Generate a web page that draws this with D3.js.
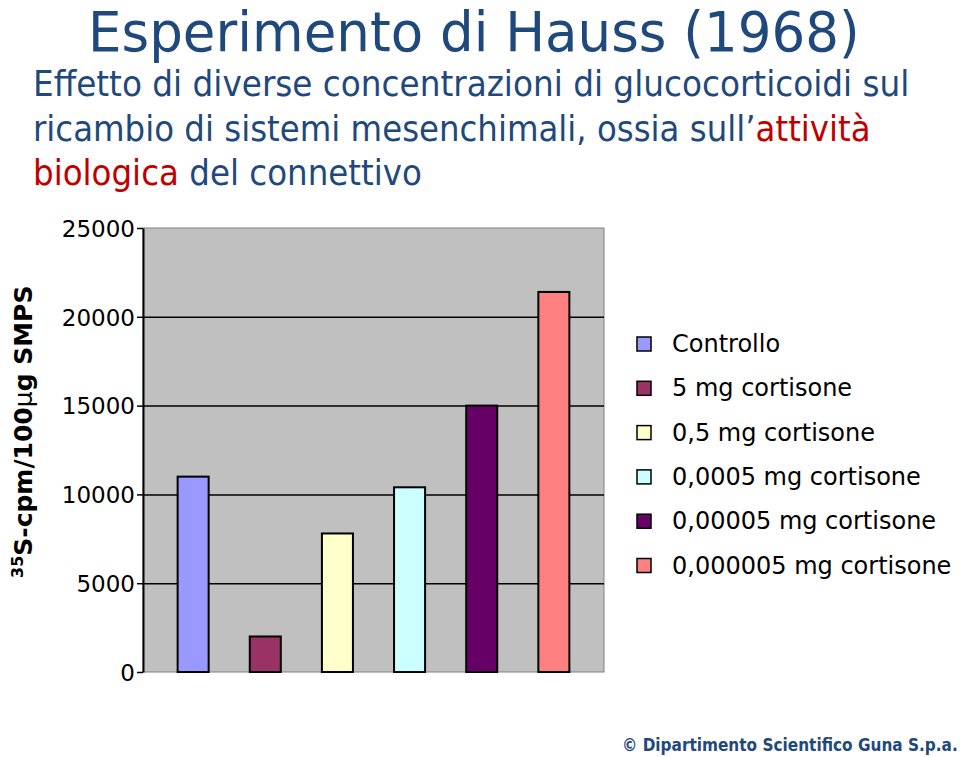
<!DOCTYPE html>
<html><head><meta charset="utf-8">
<script src="https://cdn.jsdelivr.net/npm/d3@7"></script>
<style>body{margin:0;background:#fff}</style>
</head><body>
<svg id="c" width="960" height="757"></svg>
<script>
const series = ["Controllo","5 mg cortisone","0,5 mg cortisone","0,0005 mg cortisone","0,00005 mg cortisone","0,000005 mg cortisone"];
const values = [11000, 2000, 7800, 10400, 15000, 21400];
const colors = ["#9999FF","#993366","#FFFFCC","#CCFFFF","#660066","#FF8080"];
const yTicks = [0,5000,10000,15000,20000,25000];

const blue = "#1F497D", red = "#C00000";
const font = "'DejaVu Sans', Verdana, sans-serif";
const svg = d3.select("#c");

// helper: draw text at (x,y) and squeeze horizontally to a target width
function fitText(x, y, len, size, weight, parts){
  const g = svg.append("g");
  const t = g.append("text").attr("font-family",font).attr("font-size",size)
    .attr("font-weight",weight).attr("xml:space","preserve");
  parts.forEach(p=>t.append("tspan").attr("fill",p[1]).text(p[0]));
  const w = t.node().getComputedTextLength();
  g.attr("transform",`translate(${x},${y}) scale(${len/w},1)`);
  return g;
}

// Title
fitText(88, 51, 772, 55, "normal", [["Esperimento di Hauss (1968)", blue]]);

// Subtitle lines
fitText(33, 96, 877, 36, "normal", [["Effetto di diverse concentrazioni di glucocorticoidi sul",blue]]);
fitText(33, 141, 838, 36, "normal", [["ricambio di sistemi mesenchimali, ossia sull\u2019",blue],["attività",red]]);
fitText(33, 185, 389, 36, "normal", [["biologica",red],[" del connettivo",blue]]);

// Plot
const L=143, R=604, T=228, B=672;
const x = d3.scaleBand().domain(series).range([L,R]).paddingInner(0.57).paddingOuter(0.48);
const y = d3.scaleLinear().domain([0,25000]).range([B,T]);

svg.append("rect").attr("x",L).attr("y",T).attr("width",R-L).attr("height",B-T)
  .attr("fill","#C0C0C0").attr("stroke","#808080").attr("stroke-width",1);

// gridlines
const grid = svg.append("g").attr("transform",`translate(${L},0)`)
  .call(d3.axisLeft(y).tickValues(yTicks.filter(v=>v>0 && v<25000)).tickSize(-(R-L)).tickFormat(""));
grid.select(".domain").remove();
grid.selectAll("line").attr("stroke","#000").attr("stroke-width",1.5);

// bars
svg.append("g").selectAll("rect").data(values).join("rect")
  .attr("x",(d,i)=>x(series[i])).attr("width",x.bandwidth())
  .attr("y",d=>y(d)).attr("height",d=>B-y(d))
  .attr("fill",(d,i)=>colors[i]).attr("stroke","#000").attr("stroke-width",2);

// y axis
const ax = svg.append("g").attr("transform",`translate(${L},0)`)
  .call(d3.axisLeft(y).tickValues(yTicks).tickFormat(d3.format("d")).tickSize(6).tickPadding(2).tickSizeOuter(0));
ax.select(".domain").attr("stroke","#000").attr("stroke-width",2);
ax.selectAll(".tick line").attr("stroke","#000").attr("stroke-width",1.5);
ax.selectAll(".tick text").attr("font-family",font).attr("font-size",23).attr("fill","#000").attr("dy","0.36em");

// y label
const yl = svg.append("text").attr("transform","translate(32,578) rotate(-90)")
  .attr("font-family",font).attr("font-weight","bold").attr("font-size",25).attr("fill","#000");
yl.append("tspan").attr("font-size",16).attr("dy",-9).text("35");
yl.append("tspan").attr("dy",9).text("S-cpm/100");
yl.append("tspan").attr("font-weight","normal").text("\u03BC");
yl.append("tspan").text("g SMPS");

// legend
const lg = svg.append("g").selectAll("g").data(series).join("g")
  .attr("transform",(d,i)=>`translate(637,${337+i*44.3})`);
lg.append("rect").attr("width",14).attr("height",14).attr("fill",(d,i)=>colors[i])
  .attr("stroke","#000").attr("stroke-width",1.5);
lg.append("text").attr("x",35).attr("y",15).attr("font-family",font).attr("font-size",24)
  .attr("fill","#000").text(d=>d);

// footer
fitText(622, 751, 336, 18, "bold", [["© Dipartimento Scientifico Guna S.p.a.", blue]]);
</script>
</body></html>
